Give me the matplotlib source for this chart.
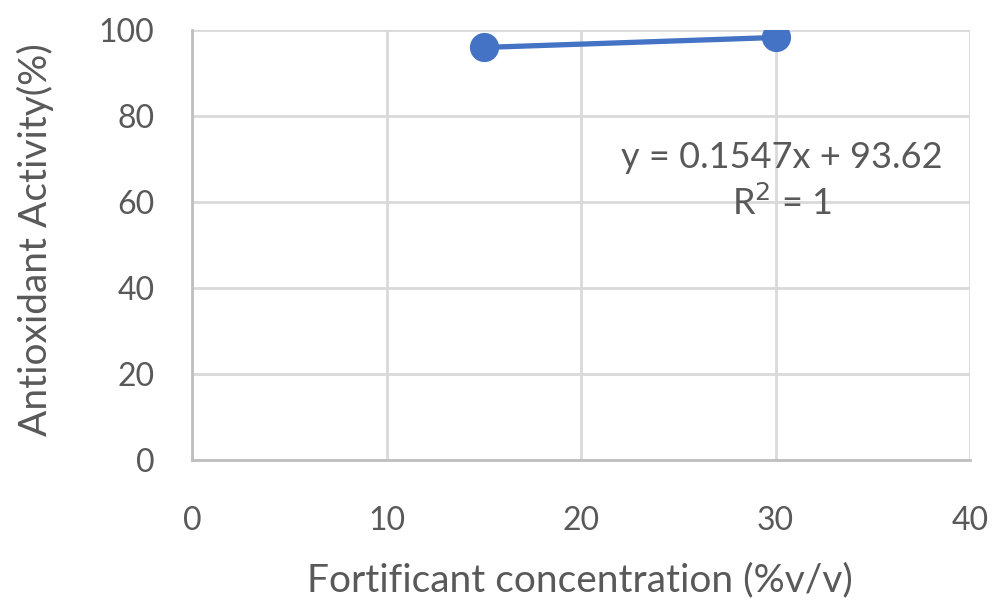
import numpy as np
import matplotlib
matplotlib.use("Agg")
from matplotlib import pyplot as plt

# data
conc = [15, 30]
activity = [95.94, 98.26]
xticks = [0, 10, 20, 30, 40]
yticks = [0, 20, 40, 60, 80, 100]

plt.rcParams['font.family'] = ['Lato', 'DejaVu Sans']
txt = '#595959'
grid = '#d9d9d9'

fig = plt.figure(figsize=(9.97, 6.08), dpi=100)
ax = fig.add_axes([192/997, 1 - 460/608, 778/997, 430/608])

ax.plot(conc, activity, color='#4472C4', lw=3.8, marker='o', ms=20,
        solid_capstyle='round', zorder=3)

ax.set_xlim(0, 40)
ax.set_ylim(0, 100)
ax.set_xticks(xticks)
ax.set_yticks(yticks)
ax.grid(True, color=grid, lw=2)
ax.set_axisbelow(True)
for s in ['top', 'right']:
    ax.spines[s].set_visible(False)
for s in ['left', 'bottom']:
    ax.spines[s].set_color('#bfbfbf')
    ax.spines[s].set_linewidth(2)
ax.tick_params(length=0, labelsize=23, labelcolor=txt)
ax.tick_params(axis='x', pad=33)
ax.tick_params(axis='y', pad=27)
for lab in ax.get_xticklabels() + ax.get_yticklabels():
    lab.set_clip_on(False)

fig.text(580/997, 1 - 580/608, 'Fortificant concentration (%v/v)', fontsize=28,
         color=txt, ha='center', va='center')
fig.text(35/997, 1 - 240/608, 'Antioxidant Activity(%)', fontsize=28,
         color=txt, ha='center', va='center', rotation=90)

# trendline equation
ax.text(0.758, 0.649, 'y = 0.1547x + 93.62\nR$^2$ = 1', transform=ax.transAxes,
        ha='center', va='center', fontsize=26, color=txt, linespacing=1.35)

fig.savefig('out.png', dpi=100)
